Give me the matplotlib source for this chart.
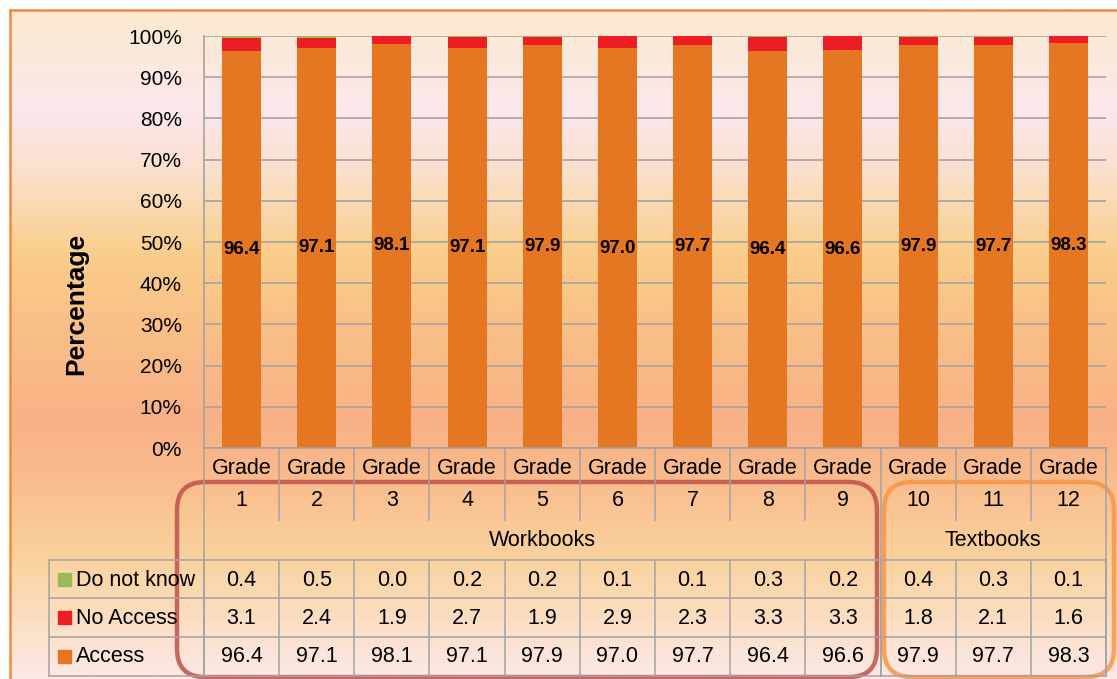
import numpy as np
import matplotlib
matplotlib.use("Agg")
import matplotlib.pyplot as plt
from matplotlib.colors import LinearSegmentedColormap
from matplotlib.patches import FancyBboxPatch, Rectangle
from matplotlib.transforms import blended_transform_factory

plt.rcParams["font.family"] = ["Liberation Sans", "DejaVu Sans"]

# data
grades = ["1", "2", "3", "4", "5", "6", "7", "8", "9", "10", "11", "12"]
groups = ["Workbooks", "Textbooks"]
group_sizes = [9, 3]
access = [96.4, 97.1, 98.1, 97.1, 97.9, 97.0, 97.7, 96.4, 96.6, 97.9, 97.7, 98.3]
no_access = [3.1, 2.4, 1.9, 2.7, 1.9, 2.9, 2.3, 3.3, 3.3, 1.8, 2.1, 1.6]
dont_know = [0.4, 0.5, 0.0, 0.2, 0.2, 0.1, 0.1, 0.3, 0.2, 0.4, 0.3, 0.1]
series_names = ["Do not know", "No Access", "Access"]
yticks = [0, 10, 20, 30, 40, 50, 60, 70, 80, 90, 100]

c_access = "#E67722"
c_noacc = "#EE1D24"
c_dk = "#9BBB59"
grid_c = "#A3A3A3"

W, H = 1117, 679
fig = plt.figure(figsize=(W / 100, H / 100), dpi=100)
fig.patch.set_facecolor("white")

# background gradient (pixel coords, y down)
bg = fig.add_axes([0, 0, 1, 1], zorder=-5)
bg.set_xlim(0, W)
bg.set_ylim(H, 0)
bg.axis("off")
stops = [(10, "#FBEAD1"), (110, "#FCE7EB"), (170, "#FBE0CE"), (250, "#FACE8C"),
         (330, "#F9BF86"), (420, "#F8B187"), (470, "#F9B98B"), (560, "#FAD29D"),
         (620, "#FBDEC2"), (679, "#FCE8E6")]
pos = [(y - 10) / (679 - 10) for y, _ in stops]
cmap = LinearSegmentedColormap.from_list("bgc", list(zip(pos, [c for _, c in stops])))
grad = np.linspace(0, 1, 400).reshape(-1, 1)
bg.imshow(grad, cmap=cmap, aspect="auto", extent=[10, W, H, 10], origin="upper")
bg.plot([10, 10], [10, H], color="#F28A3A", lw=1.8)
bg.plot([10, W], [10, 10], color="#F28A3A", lw=1.8)

# bar axes
L, R, T, B = 204, 1106, 36, 448
ax = fig.add_axes([L / W, 1 - B / H, (R - L) / W, (B - T) / H])
ax.patch.set_alpha(0)
x = np.arange(len(grades))
bw = 0.52
b1 = ax.bar(x, access, bw, color=c_access, zorder=3)
b2 = ax.bar(x, no_access, bw, bottom=access, color=c_noacc, zorder=3)
ax.bar(x, dont_know, bw, bottom=np.array(access) + np.array(no_access), color=c_dk, zorder=3)
ax.bar_label(b1, labels=[f"{v:.1f}" for v in access], label_type="center",
             fontsize=13.5, fontweight="bold", color="black")
ax.set_xlim(-0.5, len(grades) - 0.5)
ax.set_ylim(0, 100)
ax.set_yticks(yticks)
ax.set_yticklabels([f"{t}%" for t in yticks], fontsize=15)
ax.tick_params(axis="y", length=0, pad=16)
ax.set_xticks([])
ax.grid(axis="y", color=grid_c, lw=1.2, zorder=0)
for s in ["top", "right", "bottom"]:
    ax.spines[s].set_visible(False)
ax.spines["left"].set_color(grid_c)
ax.spines["left"].set_linewidth(1.2)

fig.text(76 / W, 1 - 304 / H, "Percentage", rotation=90, fontsize=19,
         fontweight="bold", ha="center", va="center")

# overlay in pixel coords for the table
ov = fig.add_axes([0, 0, 1, 1], zorder=5)
ov.set_xlim(0, W)
ov.set_ylim(H, 0)
ov.axis("off")
tr = blended_transform_factory(ax.transData, ov.transData)

n = len(grades)
edges = np.arange(n + 1) - 0.5
colw = (R - L) / n
leg_left = -0.5 - (L - 49) / colw
gb = np.cumsum([0] + group_sizes) - 0.5

lk = dict(color=grid_c, lw=1.1, transform=tr)
ov.plot([edges[0], edges[-1]], [B, B], **lk)
for e in edges:
    bottom = 676 if e in gb else 520
    ov.plot([e, e], [B, bottom], **lk)
    ov.plot([e, e], [560, 676], **lk)
for yy in [560, 598, 637, 676]:
    ov.plot([leg_left, edges[-1]], [yy, yy], **lk)
ov.plot([leg_left, leg_left], [560, 676], **lk)

for i, g in enumerate(grades):
    ov.text(i, 468, "Grade", ha="center", va="center", fontsize=15.5, transform=tr)
    ov.text(i, 500, g, ha="center", va="center", fontsize=15.5, transform=tr)
for k, name in enumerate(groups):
    ov.text((gb[k] + gb[k + 1]) / 2, 540, name, ha="center", va="center",
            fontsize=15.5, transform=tr)

rows = [(dont_know, c_dk, 579), (no_access, c_noacc, 617), (access, c_access, 656)]
clip = Rectangle((49, 560), 148, 116, transform=ov.transData)
for (vals, col, yc), name in zip(rows, series_names):
    for i, v in enumerate(vals):
        ov.text(i, yc + 1, f"{v:.1f}", ha="center", va="center", fontsize=15.5, transform=tr)
    ov.add_patch(Rectangle((58, yc - 6), 13, 13, color=col))
    t = ov.text(76, yc + 1, name, ha="left", va="center", fontsize=15.5)
    t.set_clip_path(clip)

# highlight boxes
ov.add_patch(FancyBboxPatch((177, 482), 700, 195, boxstyle="round,pad=0,rounding_size=28",
                            fill=False, ec="#C0504D", lw=3.2, alpha=0.85))
ov.add_patch(FancyBboxPatch((884, 482), 230, 195, boxstyle="round,pad=0,rounding_size=28",
                            fill=False, ec="#F79646", lw=3.2, alpha=0.85))

fig.savefig("out.png", dpi=100)
